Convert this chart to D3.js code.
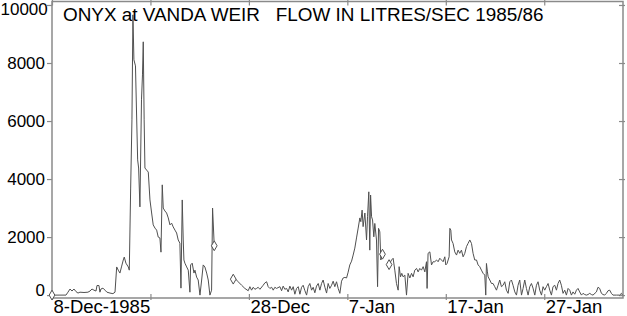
<!DOCTYPE html>
<html>
<head>
<meta charset="utf-8">
<script src="https://cdn.jsdelivr.net/npm/d3@7"></script>
<style>
  body { margin: 0; background: #fff; }
  svg { display: block; font-family: "Liberation Sans", Arial, sans-serif; }
</style>
</head>
<body>
<svg width="627" height="316"></svg>
<script>
// days after 8-Dec-1985 and flow (litres/sec); null = gap in the record
const flowDays = [
    0, 0.30, 0.81, 1.42, 1.62, 1.83, 2.03, 2.23, 2.44, 2.64, 2.84, 3.25, 3.65, 3.86, 4.06, 4.26,
    4.47, 4.57, 4.77, 4.87, 4.97, 5.18, 5.38, 5.58, 5.89, 6.19, 6.40, 6.57, 6.73, 6.90, 7.08, 7.24,
    7.34, 7.51, 7.75, 7.85, 7.99, 8.12, 8.22, 8.32, 8.48, 8.58, 8.70, 8.80, 8.93, 9.09, 9.19, 9.27,
    9.36, 9.44, 9.61, 9.78, 9.95, 10.12, 10.28, 10.46, 10.63, 10.79, 10.96, 11.07, 11.20, 11.30, 11.47, 11.64,
    11.81, 11.98, 12.15, 12.31, 12.49, 12.66, 12.82, 12.99, 13.10, 13.23, 13.33, 13.40, 13.50, 13.68, 13.84, 14.01,
    14.08, 14.24, 14.42, 14.52, 14.69, 14.85, 15.03, 15.20, 15.36, 15.53, 15.71, 15.87, 16.04, 16.21, 16.31, 16.48,
    null,
    18.41, 18.58, 18.91, 19.26, 19.59, 19.93, 20.10, 20.27, 20.44, 20.61, 20.78, 20.94, 21.12, 21.45, 21.62, 21.80,
    21.96, 22.13, 22.31, 22.47, 22.64, 22.81, 23.15, 23.32, 23.48, 23.65, 23.83, 23.99, 24.16, 24.34, 24.50, 24.67,
    24.84, 25.01, 25.18, 25.35, 25.51, 25.69, 25.86, 26.02, 26.19, 26.37, 26.53, 26.70, 26.87, 27.04, 27.21, 27.38,
    27.54, 27.72, 27.89, 28.05, 28.22, 28.40, 28.56, 28.73, 28.90, 29.07, 29.24, 29.41, 29.57, 29.75, 29.92, 30.08,
    30.25, 30.43, 30.59, 30.76, 30.93, 31.10, 31.27, 31.37, 31.50, 31.60, 31.78, 31.95, 32.05, 32.18, 32.28, 32.36,
    32.46, 32.56, 32.69, 32.79, 32.96, 33.07, 33.17, 33.30, 33.40, 33.57,
    null,
    34.24, 34.49, 34.65, 34.82, 34.99, 35.16, 35.26, 35.40, 35.53, 35.66, 35.84, 36.01, 36.17, 36.35, 36.52, 36.68,
    36.85, 37.03, 37.19, 37.36, 37.53, 37.70, 37.87, 38.04, 38.10, 38.20, 38.38, 38.55, 38.71, 38.88, 39.06, 39.22,
    39.39, 39.56, 39.73, 39.90, 40.00, 40.13, 40.34, 40.41, 40.51, 40.58, 40.74, 40.91, 41.09, 41.25, 41.42, 41.59,
    41.76, 41.93, 42.10, 42.26, 42.44, 42.61, 42.77, 42.94, 43.12, 43.28, 43.45, 43.62, 43.79, 43.96, 44.06, 44.13,
    44.23, 44.30, 44.47, 44.64, 44.80, 44.97, 45.15, 45.31, 45.48, 45.65, 45.82, 45.99, 46.16, 46.33, 46.50, 46.67,
    46.83, 47.01, 47.18, 47.34, 47.51, 47.69, 47.85, 48.02, 48.19, 48.36, 48.53, 48.70, 48.86, 49.04, 49.21, 49.37,
    49.54, 49.72, 49.88, 50.05, 50.22, 50.39, 50.56, 50.73, 50.89, 51.07, 51.24, 51.40, 51.57, 51.74, 51.91, 52.08,
    52.25, 52.42, 52.59, 52.76, 52.92, 53.10, 53.27, 53.43, 53.60, 53.78, 53.94, 54.11, 54.28, 54.45, 54.62, 54.79,
    54.95, 55.30, 55.46, 55.63, 55.81, 55.97, 56.14, 56.31, 56.48, 56.65, 56.82, 56.98, 57.33, 57.66, 57.84, 57.94
]
const flowValues = [
    0, 0, 0, 0, 100, 210, 140, 210, 120, 70, 100, 90, 100, 140, 210, 170,
    140, 330, 330, 100, 210, 240, 170, 100, 70, 50, 100, 970, 860, 760, 1000, 1210,
    1310, 1100, 970, 860, 3690, 6040, 9660, 8110, 7900, 6380, 4660, 4380, 3040, 6730, 7590, 8730,
    6040, 4380, 4310, 4240, 3280, 2830, 2420, 2310, 2240, 2000, 1970, 1480, 3800, 3000, 2900, 2830,
    2660, 2420, 2480, 2350, 2240, 2140, 1900, 1790, 240, 3280, 1900, 1210, 1100, 970, 860, 100,
    1040, 1100, 760, 860, 620, 520, 0, 520, 1040, 970, 760, 520, 0, 170, 3000, 1700,
    null,
    550, 580, 460, 340, 230, 150, 290, 170, 270, 200, 230, 270, 200, 340, 420, 460,
    290, 230, 270, 170, 270, 230, 290, 150, 310, 200, 230, 110, 310, 170, 290, 30,
    230, 290, 30, 270, 340, 150, 0, 290, 400, 170, 270, 80, 310, 400, 170, 400,
    520, 270, 70, 400, 230, 340, 480, 290, 460, 230, 60, 480, 590, 610, 590, 790,
    1040, 1170, 1380, 1620, 1970, 2310, 2660, 2530, 2930, 2360, 2830, 1900, 2700, 3560, 1550, 3450,
    2700, 2590, 2010, 2470, 1900, 290, 2300, 2180, 1210, 1410,
    null,
    1050, 1210, 1270, 860, 400, 170, 980, 630, 750, 630, 690, 0, 750, 590, 750, 630,
    860, 920, 800, 920, 860, 980, 800, 1150, 230, 1440, 1490, 1040, 1150, 1150, 1210, 1150,
    1270, 1210, 1150, 1320, 1040, 1090, 1320, 2300, 2240, 1900, 1780, 1490, 1380, 1550, 1440, 1550,
    1320, 1440, 1670, 1780, 1900, 1780, 1440, 1210, 1210, 1040, 980, 860, 750, 690, 0, 1090,
    800, 630, 520, 400, 400, 290, 170, 340, 520, 290, 340, 460, 170, 60, 460, 520,
    340, 110, 0, 340, 520, 0, 230, 520, 230, 0, 290, 400, 240, 0, 340, 460,
    170, 0, 290, 170, 290, 400, 170, 0, 290, 340, 170, 400, 520, 340, 60, 170,
    0, 230, 170, 0, 110, 30, 170, 230, 110, 0, 60, 20, 0, 20, 60, 20,
    0, 110, 270, 230, 60, 20, 0, 60, 150, 170, 60, 0, 0, 0, 60, 0
]
const flowTicks = [0, 2000, 4000, 6000, 8000, 10000]
const dateTicks = ['1985-12-08', '1985-12-18', '1985-12-28', '1986-01-07', '1986-01-17', '1986-01-27']
const chartTitle = 'ONYX at VANDA WEIR   FLOW IN LITRES/SEC 1985/86'

const startDate = new Date(1985, 11, 8)
const endDate = new Date(1986, 1, 4)
const toDate = d => new Date(startDate.getTime() + d * 864e5)
const parseDay = d3.timeParse('%Y-%m-%d')

const margin = {left: 52, right: 4, top: 1.5, bottom: 18}
const width = 627, height = 316

const svg = d3.select('svg')

const x = d3.scaleTime()
    .domain([startDate, endDate])
    .range([margin.left, width - margin.right])
const y = d3.scaleLinear()
    .domain([-100, 10120])
    .range([height - margin.bottom, margin.top])

const points = flowDays.map((d, i) => ({
    t: d === null ? null : toDate(d),
    v: flowValues[i],
    i
}))

// frame
const axisColor = '#8a8a8a'
svg.append('rect')
    .attr('x', x.range()[0]).attr('y', y.range()[1])
    .attr('width', x.range()[1] - x.range()[0])
    .attr('height', y.range()[0] - y.range()[1])
    .attr('fill', 'none')
    .attr('stroke', axisColor)
    .attr('stroke-width', 1.5)

const tickDates = dateTicks.map(parseDay)
const fmtFirst = d3.timeFormat('%-d-%b-%Y')
const fmt = d3.timeFormat('%-d-%b')

const xBottom = svg.append('g')
    .attr('transform', `translate(0, ${y.range()[0]})`)
    .call(d3.axisBottom(x)
        .tickValues(tickDates)
        .tickSize(-4)
        .tickSizeOuter(0)
        .tickPadding(2)
        .tickFormat((d, i) => i === 0 ? fmtFirst(d) : (i === 1 ? '' : fmt(d))))
xBottom.selectAll('line').attr('y1', 2)
xBottom.selectAll('text')
    .attr('text-anchor', 'start')
    .attr('x', 1)
    .style('font-size', '18.5px')

svg.append('g')
    .attr('transform', `translate(0, ${y.range()[1]})`)
    .call(d3.axisTop(x)
        .tickValues(tickDates)
        .tickSize(-4)
        .tickSizeOuter(0)
        .tickFormat(''))
    .selectAll('line').attr('y1', -1.5)

const yLeft = svg.append('g')
    .attr('transform', `translate(${x.range()[0]}, 0)`)
    .call(d3.axisLeft(y)
        .tickValues(flowTicks)
        .tickSize(5)
        .tickSizeOuter(0)
        .tickPadding(2)
        .tickFormat(d3.format('d')))
yLeft.selectAll('text').style('font-size', '17px')
yLeft.selectAll('.tick').filter(d => d === 0).select('text').attr('dy', '0.05em')
yLeft.selectAll('.tick').filter(d => d === 10000).select('text')
    .attr('dy', '0.55em')
    .attr('text-anchor', 'start')
    .attr('x', -x.range()[0] + 0.5)

svg.append('g')
    .attr('transform', `translate(${x.range()[1]}, 0)`)
    .call(d3.axisRight(y)
        .tickValues(flowTicks)
        .tickSize(-4)
        .tickSizeOuter(0)
        .tickFormat(''))
    .selectAll('line').attr('x1', 2)

svg.selectAll('.domain').attr('stroke', 'none')
svg.selectAll('.tick line').attr('stroke', axisColor).attr('stroke-width', 1.2)
svg.selectAll('.tick text').attr('fill', '#000')

// title
svg.append('text')
    .attr('x', 63)
    .attr('y', 20.5)
    .style('font-size', '18.9px')
    .style('white-space', 'pre')
    .attr('fill', '#000')
    .text(chartTitle)

// flow line
const line = d3.line()
    .defined(d => d.v !== null)
    .x(d => x(d.t))
    .y(d => y(d.v))

svg.append('path')
    .datum(points)
    .attr('fill', 'none')
    .attr('stroke', '#505050')
    .attr('stroke-width', 1)
    .attr('d', line)

// markers at the ends of the broken record
const n = points.length
const ends = points.filter(p => p.v !== null && (p.i === 0 ||
    flowValues[p.i - 1] === null || (p.i + 1 < n && flowValues[p.i + 1] === null)))

svg.selectAll('.end-mark')
    .data(ends)
    .join('path')
    .attr('class', 'end-mark')
    .attr('transform', d => `translate(${x(d.t)}, ${y(d.v)})`)
    .attr('d', d3.symbol(d3.symbolDiamond, 28))
    .attr('fill', '#fff')
    .attr('stroke', '#505050')
    .attr('stroke-width', 1)
</script>
</body>
</html>
